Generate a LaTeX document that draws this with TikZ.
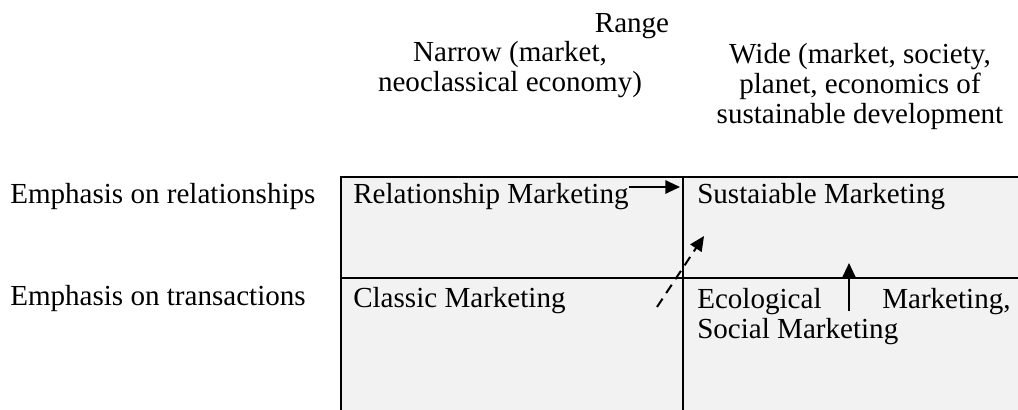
\documentclass[tikz,border=0pt]{standalone}
\usepackage{fontspec}
\setmainfont{Liberation Serif}
\usetikzlibrary{arrows.meta}

\begin{document}
\begin{tikzpicture}[
    x = 0.75pt, y = -0.75pt,
    every node/.style = {inner sep=0pt, font=\fontsize{21.8}{22.5}\selectfont},
    head/.style = {align=center, anchor=base},
    cell/.style = {anchor=base west},
    divider/.style = {line width=1.5pt},
    arr/.style = {-{Triangle[length=11pt, width=10pt]}, line width=1.5pt}
]
\useasboundingbox (0,0) rectangle (1018,410);
\clip (0,0) rectangle (1018,410);

% Matrix of the four fields
\fill[gray!10] (341,177) rectangle (1030,420);
\draw[divider] (1030,177) -| (341,420);
\draw[divider] (683,177) -- (683,420);
\draw[divider] (341,278) -- (1030,278);

% Column heads (base of a multi-line node is its last line)
\node[head] (range) at (632,33) {Range};
\node[head] (narrow) at (510,92) {Narrow (market,\\neoclassical economy)};
\node[head] (wide) at (860,123)
    {Wide (market, society,\\planet, economics of\\sustainable development};

% Row heads
\node[cell] (relrow) at (10,203) {Emphasis on relationships};
\node[cell] (transrow) at (10,305) {Emphasis on transactions};

% Fields
\node[cell] (rel) at (353,203) {Relationship Marketing};
\node[cell] (sust) at (697,203) {Sustaiable Marketing};
\node[cell] (classic) at (353,307) {Classic Marketing};
\node[cell, align=left] (eco) at (697,338)
    {\makebox[235pt][s]{Ecological Marketing,}\\Social Marketing};

% Shifts between the fields
\coordinate (relTip) at (680,187);
\coordinate (dashTail) at (657,307);
\coordinate (dashTip) at (704,236);
\coordinate (ecoTail) at (849,311);
\coordinate (ecoTip) at (849,263);

\draw[arr] (rel.east |- relTip) -- (relTip);
\draw[arr, dash pattern=on 7.5pt off 5pt] (dashTail) -- (dashTip);
\draw[arr] (ecoTail) -- (ecoTip);

\end{tikzpicture}
\end{document}
